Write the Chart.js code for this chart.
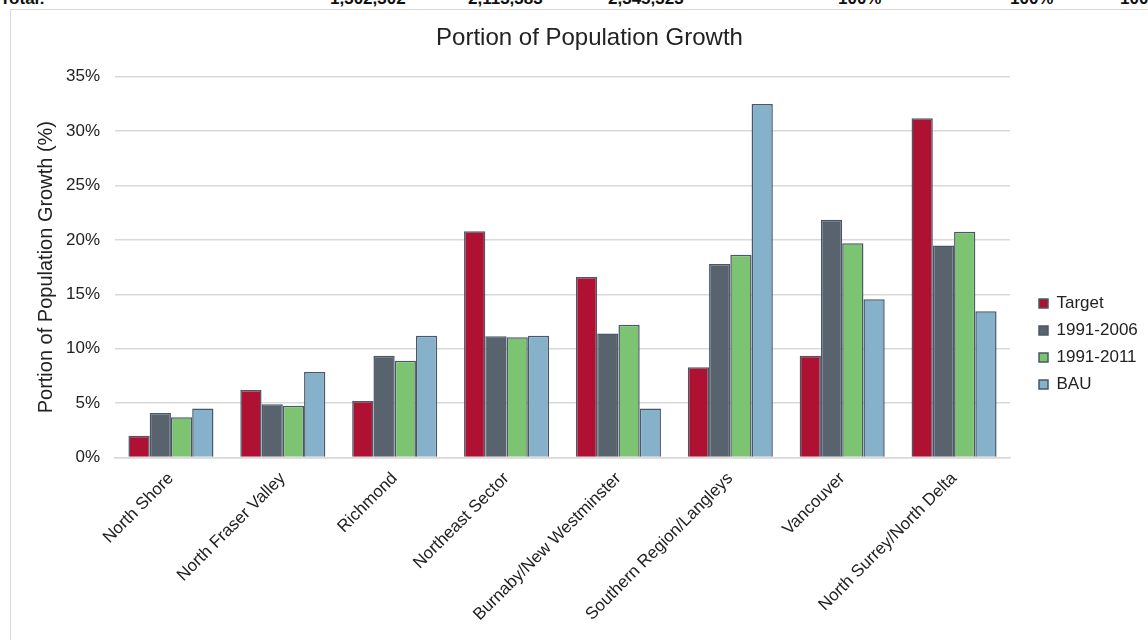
<!DOCTYPE html>
<html>
<head>
<meta charset="utf-8">
<script src="https://cdn.jsdelivr.net/npm/chart.js@4.4.1/dist/chart.umd.min.js"></script>
<style>
  html, body { margin: 0; padding: 0; background: #fff; overflow: hidden; }
  body { width: 1148px; height: 640px; position: relative; font-family: 'Liberation Sans', Arial, sans-serif; }
  /* cut-off table row above the chart */
  #totals { position: absolute; left: 0; top: 0; width: 1148px; height: 8px; overflow: hidden; }
  #totals span { position: absolute; top: -11px; font-size: 17px; font-weight: bold; color: #111; white-space: nowrap; }
  #box { position: absolute; left: 10px; top: 9px; width: 1170px; height: 680px; border: 1.5px solid #d9d9d9; box-sizing: border-box; }
  #wrap { position: absolute; left: 11px; top: 10px; width: 1148px; height: 618px; }
</style>
</head>
<body>
<div id="totals"></div>
<div id="box"></div>
<div id="wrap"><canvas id="growthChart"></canvas></div>
<script>
// данные
const regions = ['North Shore', 'North Fraser Valley', 'Richmond', 'Northeast Sector',
  'Burnaby/New Westminster', 'Southern Region/Langleys', 'Vancouver', 'North Surrey/North Delta'];
const target   = [2.0, 6.2, 5.2, 20.8, 16.6, 8.3, 9.35, 31.2];
const s1991_06 = [4.1, 4.9, 9.35, 11.15, 11.4, 17.8, 21.85, 19.5];
const s1991_11 = [3.7, 4.75, 8.9, 11.05, 12.2, 18.65, 19.7, 20.75];
const bau      = [4.5, 7.85, 11.2, 11.2, 4.5, 32.5, 14.55, 13.45];
const yTicks   = [0, 5, 10, 15, 20, 25, 30, 35];

const totalsRow = [['Total:', 0], ['1,302,302', 330], ['2,113,383', 468], ['2,345,323', 608],
  ['100%', 838], ['100%', 1010], ['100%', 1120]];

const totalsEl = document.getElementById('totals');
totalsRow.forEach(([t, x]) => {
  const s = document.createElement('span');
  s.textContent = t;
  s.style.left = x + 'px';
  totalsEl.append(s);
});

const edge = '#4a5866';
const ink  = '#222';
const font = "'Liberation Sans', Arial, sans-serif";

// легенда: фиксированная ширина и сдвиг относительно области графика
const legendPlace = {
  id: 'legendPlace',
  beforeLayout(chart) {
    const lg = chart.legend;
    if (!lg || lg._patched) return;
    const fit = lg.fit;
    lg.fit = function () { fit.call(this); this.width = 149; };
    lg._patched = true;
  },
  afterLayout(chart) {
    const lg = chart.legend;
    const w = lg.right - lg.left, h = lg.bottom - lg.top;
    lg.left += 19; lg.right = lg.left + w;
    lg.top += 25;  lg.bottom = lg.top + h;
  }
};

new Chart(document.getElementById('growthChart'), {
  type: 'bar',
  data: {
    labels: regions,
    datasets: [
      { label: 'Target',    data: target,   backgroundColor: '#ae1132' },
      { label: '1991-2006', data: s1991_06, backgroundColor: '#59636e' },
      { label: '1991-2011', data: s1991_11, backgroundColor: '#7dc472' },
      { label: 'BAU',       data: bau,      backgroundColor: '#86b1cb' }
    ].map(d => Object.assign(d, {
      borderColor: edge, borderWidth: 1.5,
      categoryPercentage: 0.76, barPercentage: 1.0
    }))
  },
  plugins: [legendPlace],
  options: {
    responsive: true,
    maintainAspectRatio: false,
    animation: false,
    layout: { padding: { left: 9, right: 0, top: 0, bottom: 0 } },
    plugins: {
      title: {
        display: true, text: 'Portion of Population Growth',
        color: ink, font: { family: font, size: 24, weight: 'normal' },
        padding: { top: 14, bottom: 24 }
      },
      legend: {
        position: 'right',
        labels: {
          color: ink, font: { family: font, size: 17 },
          boxWidth: 9, boxHeight: 9, padding: 10
        }
      },
      tooltip: { enabled: false }
    },
    scales: {
      x: {
        // подписи под углом не должны отодвигать ось Y
        afterFit: s => { s.paddingLeft = 0; },
        grid: { display: false },
        border: { color: '#d9d9d9', width: 1.5 },
        ticks: {
          color: ink, font: { family: font, size: 17 },
          minRotation: 45, maxRotation: 45, autoSkip: false
        }
      },
      y: {
        min: 0, max: 35,
        afterBuildTicks: axis => { axis.ticks = yTicks.map(v => ({ value: v })); },
        afterFit: s => { s.width = 95; },
        grid: { color: '#d9d9d9', lineWidth: 1.5, drawTicks: false },
        border: { display: false },
        ticks: {
          color: ink, font: { family: font, size: 17 }, padding: 15,
          callback: v => v + '%'
        },
        title: {
          display: true, text: 'Portion of Population Growth (%)',
          color: ink, font: { family: font, size: 20 }, padding: { top: 14, bottom: 0 }
        }
      }
    }
  }
});
</script>
</body>
</html>
